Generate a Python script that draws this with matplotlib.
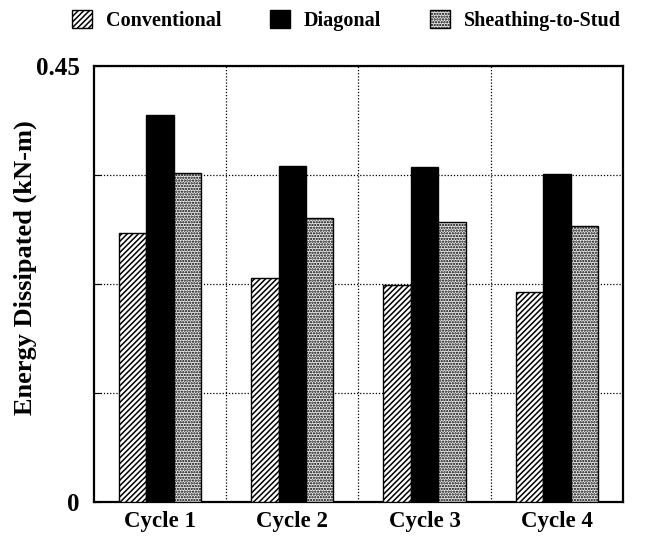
import matplotlib.pyplot as plt
import numpy as np

plt.rcParams['font.family'] = 'Liberation Serif'
plt.rcParams['font.weight'] = 'bold'
plt.rcParams['axes.labelweight'] = 'bold'
plt.rcParams['hatch.linewidth'] = 1.1

cycles = ['Cycle 1', 'Cycle 2', 'Cycle 3', 'Cycle 4']
conventional = [0.278, 0.2315, 0.224, 0.217]
diagonal = [0.399, 0.347, 0.346, 0.339]
sheathing = [0.340, 0.293, 0.289, 0.285]

fig = plt.figure(figsize=(6.6, 5.4), dpi=100)
ax = fig.add_axes([0.142, 0.070, 0.802, 0.808])

x = np.arange(len(cycles))
w = 0.207

ax.bar(x - w, conventional, w, facecolor='white', edgecolor='black',
       hatch='//////', linewidth=1.0, label='Conventional', zorder=3)
ax.bar(x, diagonal, w, facecolor='black', edgecolor='black',
       linewidth=1.0, label='Diagonal', zorder=3)
ax.bar(x + w, sheathing, w, facecolor='#e8e8e8', edgecolor='black',
       hatch='......', linewidth=1.0, label='Sheathing-to-Stud', zorder=3)

ax.set_xlim(-0.5, 3.5)
ax.set_ylim(0, 0.45)

yt = [0, 0.1125, 0.225, 0.3375, 0.45]
ax.set_yticks(yt)
ax.set_yticklabels(['0', '', '', '', '0.45'], fontsize=18)
ax.set_xticks(x)
ax.set_xticklabels(cycles, fontsize=16.5)
ax.set_xticks([0.5, 1.5, 2.5], minor=True)
ax.tick_params(axis='x', which='both', length=0, pad=6)
ax.tick_params(axis='y', direction='in', length=5, pad=10)

ax.yaxis.grid(True, linestyle=(0, (1, 1.5)), color='black', linewidth=0.9)
ax.xaxis.grid(True, which='minor', linestyle=(0, (1, 1.5)), color='black', linewidth=0.9)
ax.set_axisbelow(True)

for s in ax.spines.values():
    s.set_linewidth(1.6)

ax.set_ylabel('Energy Dissipated (kN-m)', fontsize=19)
ax.yaxis.set_label_coords(-0.108, 0.537)

fig.legend(loc='upper center', bbox_to_anchor=(0.525, 1.015), ncol=3,
           frameon=False, fontsize=14.5, handlelength=1.0, handleheight=1.0,
           columnspacing=2.4, handletextpad=0.7)

fig.savefig('out.png', dpi=100)
